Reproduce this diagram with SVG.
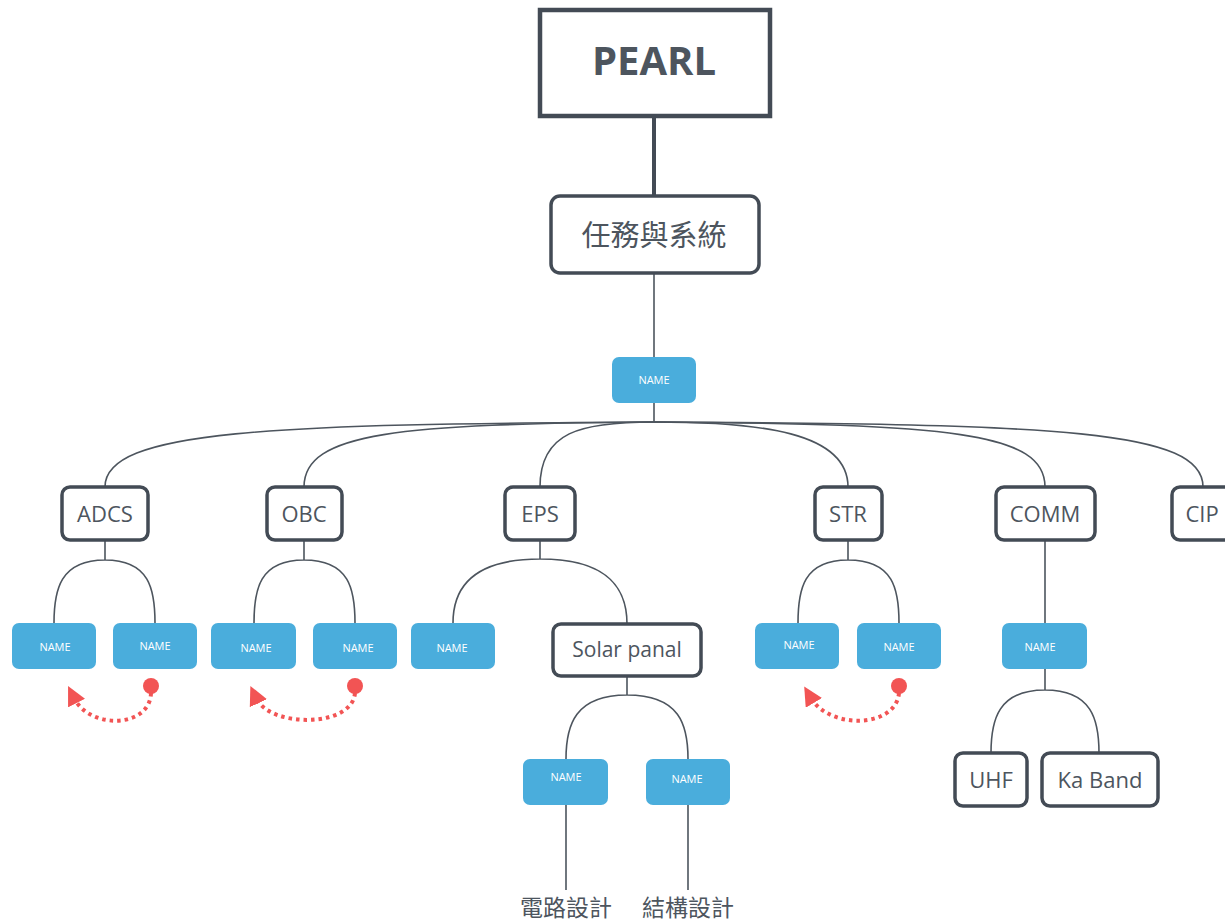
<svg xmlns="http://www.w3.org/2000/svg" width="1225" height="924" viewBox="0 0 1225 924">
<defs>
<style>
.box{fill:#fff;stroke:#434b55;stroke-width:3.5}
.lbl{font-family:"Open Sans","Liberation Sans",sans-serif;fill:#4d555e;text-anchor:middle}
.cjk{font-family:"Noto Sans CJK TC","Noto Sans CJK SC",sans-serif;fill:#4d555e;text-anchor:middle}
.blue{fill:#4aaddc}
.nm{font-family:"Open Sans","Liberation Sans",sans-serif;font-size:11px;fill:#fff;text-anchor:middle}
.ln{fill:none;stroke:#4d555e;stroke-width:1.6}
.red{fill:none;stroke:#f25454;stroke-width:4;stroke-dasharray:3.5 4}
</style>
<marker id="tri" viewBox="0 0 10 10" refX="3" refY="5" markerWidth="19" markerHeight="19" markerUnits="userSpaceOnUse" orient="auto">
<path d="M0,0 L10,5 L0,10 z" fill="#f25454"/>
</marker>
</defs>
<rect width="1225" height="924" fill="#fff"/>
<g id="connectors">
<line x1="654" y1="116" x2="654" y2="196" stroke="#434b55" stroke-width="4"/>
<line class="ln" x1="654" y1="273" x2="654" y2="357"/>
<line class="ln" x1="654" y1="403" x2="654" y2="422"/>
<path class="ln" d="M654,422 C270,424 105,430 105,487"/>
<path class="ln" d="M654,422 C400,424 304,432 304,487"/>
<path class="ln" d="M654,422 C580,422 540,432 540,487"/>
<path class="ln" d="M654,422 C760,422 848,432 848,487"/>
<path class="ln" d="M654,422 C950,424 1045,432 1045,487"/>
<path class="ln" d="M654,422 C1060,424 1203,430 1203,487"/>
<path class="ln" d="M105,540 V560 M105,560 C60,560 54,590 54,623 M105,560 C150,560 155,590 155,623"/>
<path class="ln" d="M304,540 V560 M304,560 C259,560 254,590 254,623 M304,560 C350,560 355,590 355,623"/>
<path class="ln" d="M540,540 V559 M540,559 C470,559 453,590 453,623 M540,559 C610,559 627,590 627,624"/>
<path class="ln" d="M627,676 V695 M627,695 C575,695 566,725 566,759 M627,695 C680,695 688,725 688,759"/>
<path class="ln" d="M566,805 V890 M688,805 V890"/>
<path class="ln" d="M848,540 V560 M848,560 C803,560 798,590 798,623 M848,560 C894,560 899,590 899,623"/>
<path class="ln" d="M1045,540 V623 M1045,669 V690 M1045,690 C998,690 991,720 991,753 M1045,690 C1092,690 1099,720 1099,753"/>
<path class="red" d="M151,693 C150,728 90,730 74,698" marker-end="url(#tri)"/>
<circle cx="151" cy="686" r="8" fill="#f25454"/>
<path class="red" d="M355,693 C352,728 270,728 256,698" marker-end="url(#tri)"/>
<circle cx="355" cy="686" r="8" fill="#f25454"/>
<path class="red" d="M899,693 C896,728 830,730 811,698" marker-end="url(#tri)"/>
<circle cx="899" cy="686" r="8" fill="#f25454"/>
</g>
<g id="pearl"><rect x="540" y="10" width="230" height="106" fill="#fff" stroke="#434b55" stroke-width="4.5"/><text class="lbl" x="654" y="75" font-size="40" font-weight="bold" fill="#434b55">PEARL</text></g>
<g id="mission"><rect class="box" x="551" y="196" width="208" height="77" rx="9"/><text class="cjk" x="654" y="246" font-size="29">任務與系統</text></g>
<g id="name0"><rect class="blue" x="612" y="357" width="84" height="46" rx="7"/><text class="nm" x="654" y="384">NAME</text></g>
<g id="adcs"><rect class="box" x="62" y="487" width="86" height="53" rx="8"/><text class="lbl" x="105" y="522" font-size="22">ADCS</text></g>
<g id="obc"><rect class="box" x="267" y="487" width="75" height="53" rx="8"/><text class="lbl" x="304" y="522" font-size="22">OBC</text></g>
<g id="eps"><rect class="box" x="505" y="487" width="70" height="53" rx="8"/><text class="lbl" x="540" y="522" font-size="22">EPS</text></g>
<g id="str"><rect class="box" x="815" y="487" width="67" height="53" rx="8"/><text class="lbl" x="848" y="522" font-size="22">STR</text></g>
<g id="comm"><rect class="box" x="996" y="487" width="99" height="53" rx="8"/><text class="lbl" x="1045" y="522" font-size="22">COMM</text></g>
<g id="cip"><rect class="box" x="1172" y="487" width="70" height="53" rx="8"/><text class="lbl" x="1202" y="522" font-size="22">CIP</text></g>
<g id="adcs1"><rect class="blue" x="12" y="623" width="84" height="46" rx="7"/><text class="nm" x="55" y="651">NAME</text></g>
<g id="adcs2"><rect class="blue" x="113" y="623" width="84" height="46" rx="7"/><text class="nm" x="155" y="650">NAME</text></g>
<g id="obc1"><rect class="blue" x="211" y="623" width="85" height="46" rx="7"/><text class="nm" x="256" y="652">NAME</text></g>
<g id="obc2"><rect class="blue" x="313" y="623" width="84" height="46" rx="7"/><text class="nm" x="358" y="652">NAME</text></g>
<g id="eps1"><rect class="blue" x="411" y="623" width="84" height="46" rx="7"/><text class="nm" x="452" y="652">NAME</text></g>
<g id="solar"><rect class="box" x="553" y="624" width="148" height="52" rx="8"/><text class="lbl" x="627" y="657" font-size="21">Solar panal</text></g>
<g id="solar1"><rect class="blue" x="523" y="759" width="85" height="46" rx="7"/><text class="nm" x="566" y="781">NAME</text></g>
<g id="solar2"><rect class="blue" x="646" y="759" width="84" height="46" rx="7"/><text class="nm" x="687" y="783">NAME</text></g>
<g id="circuit"><text class="cjk" x="566" y="916" font-size="23">電路設計</text></g>
<g id="struct"><text class="cjk" x="688" y="916" font-size="23">結構設計</text></g>
<g id="str1"><rect class="blue" x="755" y="623" width="84" height="46" rx="7"/><text class="nm" x="799" y="649">NAME</text></g>
<g id="str2"><rect class="blue" x="857" y="623" width="84" height="46" rx="7"/><text class="nm" x="899" y="651">NAME</text></g>
<g id="comm1"><rect class="blue" x="1002" y="623" width="85" height="46" rx="7"/><text class="nm" x="1040" y="651">NAME</text></g>
<g id="uhf"><rect class="box" x="955" y="753" width="72" height="53" rx="8"/><text class="lbl" x="991" y="788" font-size="22">UHF</text></g>
<g id="ka"><rect class="box" x="1042" y="753" width="116" height="53" rx="8"/><text class="lbl" x="1100" y="788" font-size="22">Ka Band</text></g>
</svg>
